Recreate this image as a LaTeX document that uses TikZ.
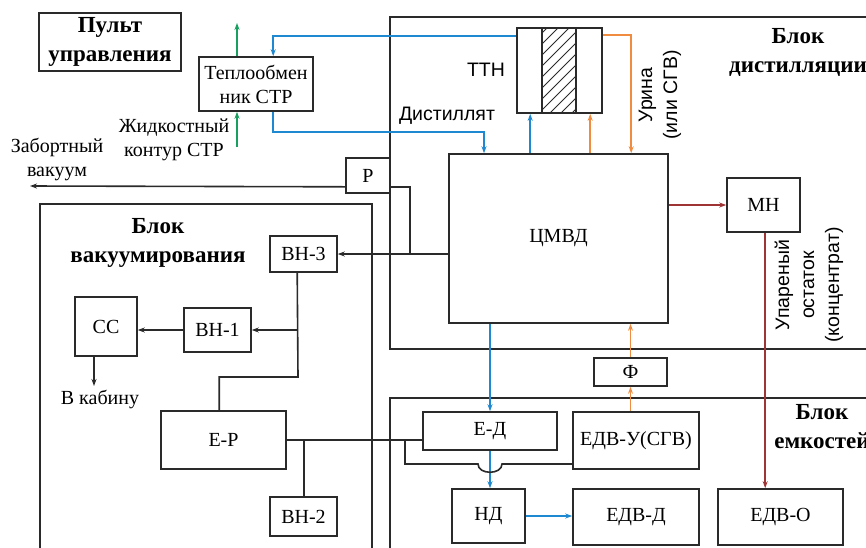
\documentclass[tikz,border=0pt]{standalone}
\usepackage{fontspec}
\setmainfont{Liberation Serif}
\newfontfamily\sansf{Liberation Sans}
\usetikzlibrary{arrows.meta}
\definecolor{lc}{HTML}{2A2A2A}
\definecolor{cblue}{HTML}{1E88D0}
\definecolor{corange}{HTML}{F08C40}
\definecolor{cgreen}{HTML}{18A060}
\definecolor{cred}{HTML}{9E3434}
\newcommand\fsr{\fontsize{20}{24}\selectfont}
\newcommand\fss{\sansf\fontsize{19.5}{25}\selectfont}
\newcommand\fbt{\bfseries\fontsize{23}{29}\selectfont}
\tikzset{
  box/.style={draw=lc, line width=1.6pt, inner sep=0pt, font=\fsr, align=center},
  grp/.style={draw=lc, line width=1.6pt},
  ln/.style={draw=lc, line width=1.6pt},
  bl/.style={draw=cblue, line width=1.6pt},
  og/.style={draw=corange, line width=1.6pt},
  gr/.style={draw=cgreen, line width=1.6pt},
  rd/.style={draw=cred, line width=1.6pt},
  arr/.style={-{Stealth[length=7pt,width=5pt]}},
  ttl/.style={font=\fbt, align=center, inner sep=0pt},
  lbl/.style={font=\fsr, align=center, inner sep=0pt},
  slbl/.style={font=\fss, align=center, inner sep=0pt},
}
\begin{document}
\begin{tikzpicture}[x=1pt,y=-1pt]
\useasboundingbox (0,0) rectangle (866,547);
\fill[white] (0,0) rectangle (866,547);
% group blocks
\draw[grp] (390,17) rectangle (900,349);
\draw[grp] (40,204) rectangle (372,560);
\draw[grp] (390,398) rectangle (900,560);
\node[ttl] (tdist) at (798,52) {Блок\\дистилляции};
\node[ttl] (tvac) at (158,243) {Блок\\вакуумирования};
\node[ttl] (tcap) at (822,427) {Блок\\емкостей};
% boxes
\node[box, minimum width=142pt, minimum height=58pt, font=\fbt] (pult) at (110,42) {Пульт\\управления};
\node[box, minimum width=114pt, minimum height=54pt] (heat) at (256,84) {Теплообмен\\ник СТР};
\node[box, minimum width=85pt, minimum height=85pt] (ttn) at (559.5,70.5) {};
\node[box, minimum width=219pt, minimum height=169pt] (cmvd) at (558.5,238.5) {ЦМВД};
\node[box, minimum width=73pt, minimum height=54pt] (mn) at (763.5,205) {МН};
\node[box, minimum width=44pt, minimum height=35pt] (p) at (368,175.5) {Р};
\node[box, minimum width=67pt, minimum height=36pt] (vn3) at (303.5,254) {ВН-3};
\node[box, minimum width=67pt, minimum height=44pt] (vn1) at (217.5,330) {ВН-1};
\node[box, minimum width=62pt, minimum height=59pt] (cc) at (106,326.5) {СС};
\node[box, minimum width=125pt, minimum height=58pt] (er) at (223.5,440) {Е-Р};
\node[box, minimum width=67pt, minimum height=39pt] (vn2) at (303.5,516.5) {ВН-2};
\node[box, minimum width=73pt, minimum height=28pt] (f) at (630.5,372) {Ф};
\node[box, minimum width=134pt, minimum height=38pt] (ed) at (490,431) {Е-Д};
\node[box, minimum width=126pt, minimum height=57pt] (edvu) at (636,440.5) {ЕДВ-У(СГВ)};
\node[box, minimum width=73pt, minimum height=54pt] (nd) at (488.5,516) {НД};
\node[box, minimum width=126pt, minimum height=56pt] (edvd) at (636,517) {ЕДВ-Д};
\node[box, minimum width=125pt, minimum height=56pt] (edvo) at (780.5,517) {ЕДВ-О};
% TTN hatch
\begin{scope}
  \clip (542,28) rectangle (576,113);
  \foreach \a in {440,451,...,590} \draw[lc, line width=1pt] (\a,113) -- (\a+85,28);
\end{scope}
\draw[ln] (542,28) -- (542,113);
\draw[ln] (576,28) -- (576,113);
% labels
\node[lbl] (zab) at (57,159) {Забортный\\вакуум};
\node[lbl] (zhid) at (174,140) {Жидкостный\\контур СТР};
\node[lbl] (kab) at (100,399) {В кабину};
\node[slbl] (ttnl) at (486,70) {ТТН};
\node[slbl] (dist) at (447,116) {Дистиллят};
\node[slbl, rotate=90] (urina) at (660,95) {Урина\\(или СГВ)};
\node[slbl, rotate=90] (upar) at (809,285) {Упареный\\остаток\\(концентрат)};
% blue connectors
\draw[bl,arr] ([yshift=-9pt]ttn.north west) -| ([xshift=75pt]heat.north west);
\coordinate (d1) at (484,132);
\draw[bl,arr] ([xshift=75pt]heat.south west) |- (d1) -- (d1 |- cmvd.north);
\draw[bl,arr] ([xshift=82pt]cmvd.north west) -- ([xshift=14pt]ttn.south west);
\draw[bl,arr] (ed.north |- cmvd.south) -- (ed.north);
\draw[bl,arr] (ed.south) -- (ed.south |- nd.north);
\draw[bl,arr] (nd.east) -- (nd.east -| edvd.west);
% orange connectors
\draw[og,arr] ([xshift=142pt]cmvd.north west) -- ([xshift=74pt]ttn.south west);
\draw[og,arr] ([yshift=-8pt]ttn.north east) -| ([xshift=183pt]cmvd.north west);
\draw[og,arr] (f.north) -- (f.north |- cmvd.south);
\draw[og,arr] (f.south |- edvu.north) -- (f.south);
% dark red
\draw[rd,arr] (cmvd.east |- mn.west) -- (mn.west);
\coordinate (mr) at ([xshift=39pt]mn.south west);
\draw[rd,arr] (mr) -- (mr |- edvo.north);
% green
\coordinate (g1) at (237,23);
\coordinate (g2) at (237,147);
\draw[gr,arr] (heat.north -| g1) -- (g1);
\draw[gr,arr] (g2) -- (g2 |- heat.south);
% black
\coordinate (zv) at (30,186);
\draw[ln,arr] ([yshift=7pt]p.south west) -- (zv);
\coordinate (pj) at (410,254);
\draw[ln] ([yshift=7pt]p.south east) -| (pj);
\draw[ln,arr] (cmvd.west |- vn3.east) -- (vn3.east);
\coordinate (j1) at (298,330);
\coordinate (j2) at (298,377);
\draw[ln] ([xshift=28pt]vn3.south west) -- (j2) -| ([xshift=59pt]er.north west);
\draw[ln,arr] (j1) -- (vn1.east);
\draw[ln,arr] (vn1.west) -- (vn1.west -| cc.east);
\coordinate (kb) at (94,386);
\draw[ln,arr] (cc.south -| kb) -- (kb);
\draw[ln] (er.east) -- (er.east -| ed.west);
\coordinate (v2) at ([xshift=35pt]vn2.north west);
\draw[ln] (v2 |- er.east) -- (v2);
\coordinate (h0) at (405,440);
\coordinate (h1) at (405,464);
\coordinate (h2) at (478,464);
\coordinate (h3) at (502,464);
\draw[ln] (h0) -- (h1) -- (h2) .. controls (478,475) and (502,475) .. (h3) -- (h3 -| edvu.west);
\end{tikzpicture}
\end{document}
